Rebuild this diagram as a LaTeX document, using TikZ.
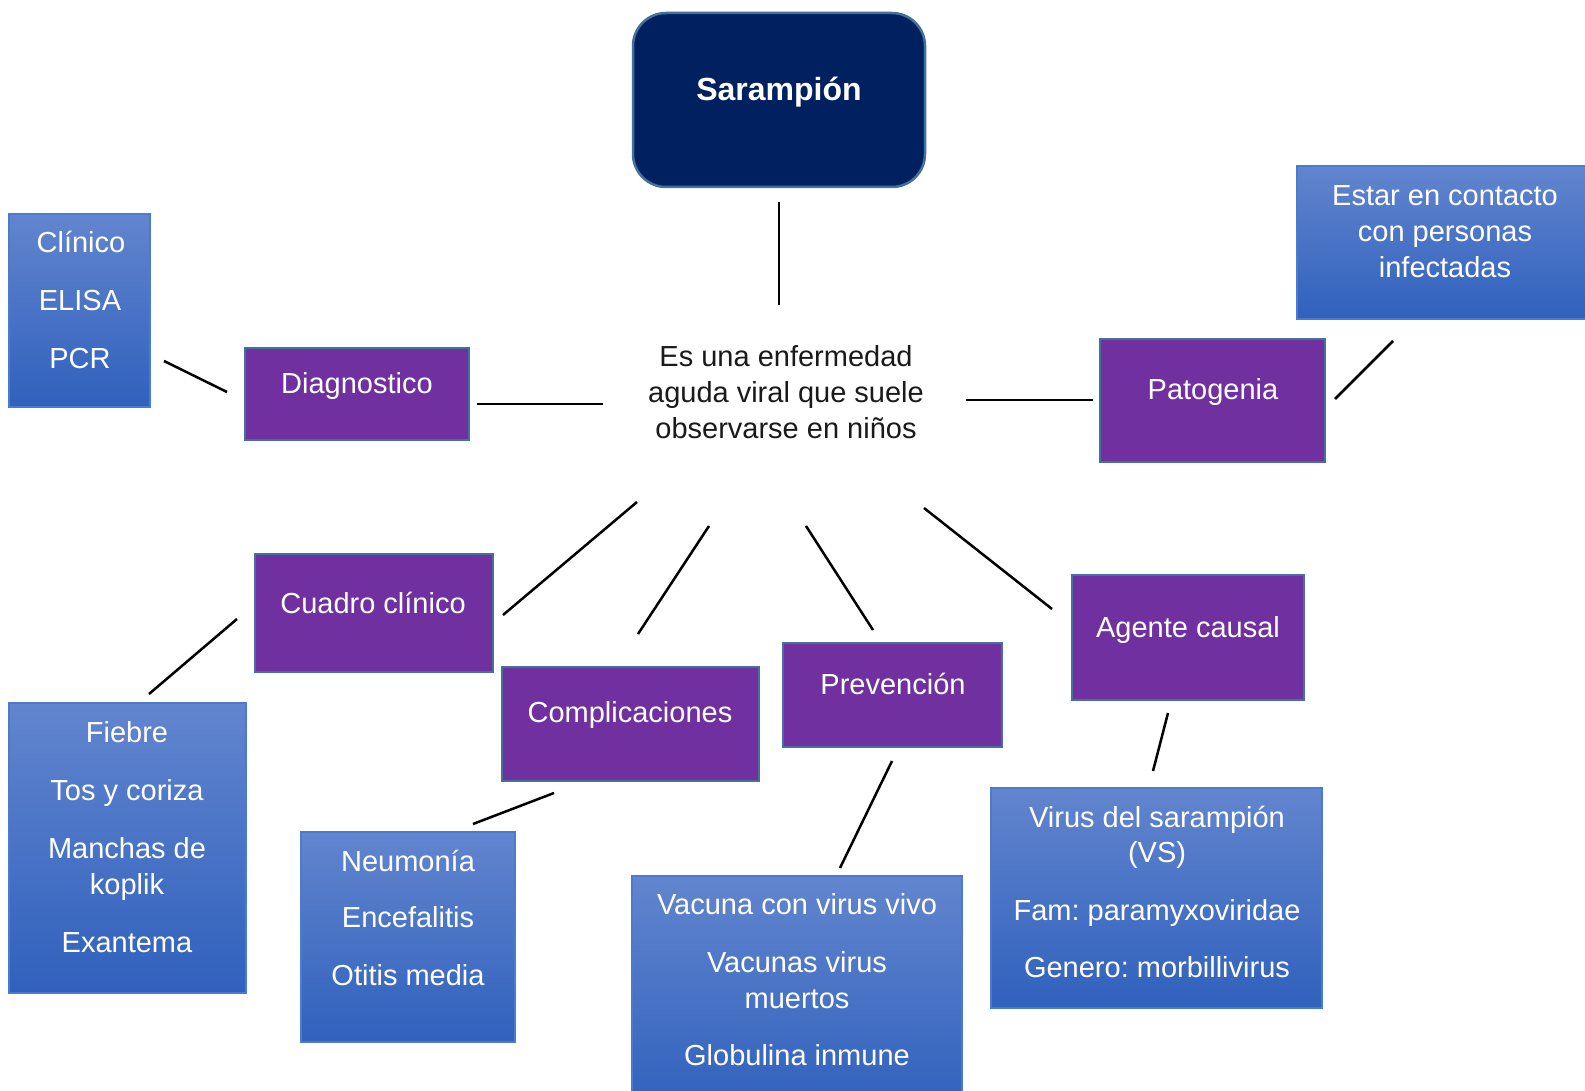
\documentclass[tikz,border=0pt]{standalone}
\usepackage{fontspec}
\setmainfont{Liberation Sans}
\frenchspacing
\definecolor{navy}{HTML}{002060}
\definecolor{edgeblue}{HTML}{41719C}
\definecolor{purp}{HTML}{7030A0}
\definecolor{btop}{HTML}{6285CE}
\definecolor{bbot}{HTML}{3061BD}
\definecolor{bedge}{HTML}{4A7BD0}
\definecolor{darktext}{HTML}{1A1A1A}
\begin{document}
\begin{tikzpicture}[x=1pt,y=-1pt,
  titlebox/.style={draw=edgeblue,line width=2.5pt,fill=navy,rounded corners=33pt,inner sep=0pt},
  purpbox/.style={draw=edgeblue,line width=2.2pt,fill=purp,inner sep=0pt},
  bluebox/.style={draw=bedge,line width=1.5pt,top color=btop,bottom color=bbot,inner sep=0pt},
  txt/.style={text=white,font=\fontsize{29}{36}\selectfont,inner sep=0pt,text height=21pt,text depth=0pt,anchor=center},
  ctxt/.style={txt,text=darktext},
  link/.style={draw=black,line width=2.5pt}]
\clip (0,0) rectangle (1585,1091);
\fill[white] (0,0) rectangle (1585,1091);
% boxes
\node[titlebox,minimum width=292pt,minimum height=174pt] (title) at (779,100) {};
\node[bluebox,minimum width=141pt,minimum height=193pt] (clin) at (79.5,310.5) {};
\node[purpbox,minimum width=224pt,minimum height=92pt] (diag) at (357,394) {};
\node[purpbox,minimum width=225pt,minimum height=123pt] (pato) at (1212.5,400.5) {};
\node[bluebox,minimum width=303pt,minimum height=153pt] (estar) at (1448.5,242.5) {};
\node[purpbox,minimum width=238pt,minimum height=118pt] (cuadro) at (374,613) {};
\node[bluebox,minimum width=237pt,minimum height=290pt] (fiebre) at (127.5,848) {};
\node[bluebox,minimum width=214pt,minimum height=210pt] (neum) at (408,937) {};
\node[purpbox,minimum width=257pt,minimum height=114pt] (compl) at (630.5,724) {};
\node[purpbox,minimum width=219pt,minimum height=104pt] (prev) at (892.5,695) {};
\node[bluebox,minimum width=330pt,minimum height=234pt] (vac) at (797,993) {};
\node[purpbox,minimum width=232pt,minimum height=125pt] (agente) at (1188,637.5) {};
\node[bluebox,minimum width=331pt,minimum height=220pt] (virus) at (1156.5,898) {};
% texts
\node[txt,font=\fontsize{32}{38}\selectfont\bfseries,text height=23pt] (tSar) at (779,89) {Sarampión};
\node[txt] (tClin) at (81,242) {Clínico};
\node[txt] (tElisa) at (80,300) {ELISA};
\node[txt] (tPcr) at (80,358) {PCR};
\node[txt] (tDiag) at (357,383) {Diagnostico};
\node[ctxt] (tC1) at (786,356) {Es una enfermedad};
\node[ctxt] (tC2) at (786,392) {aguda viral que suele};
\node[ctxt] (tC3) at (786,428) {observarse en niños};
\node[txt] (tPato) at (1213,389) {Patogenia};
\node[txt] (tE1) at (1445,195) {Estar en contacto};
\node[txt] (tE2) at (1445,231) {con personas};
\node[txt] (tE3) at (1445,267) {infectadas};
\node[txt] (tCuadro) at (373,603) {Cuadro clínico};
\node[txt] (tF1) at (127,732) {Fiebre};
\node[txt] (tF2) at (127,790) {Tos y coriza};
\node[txt] (tF3) at (127,848) {Manchas de};
\node[txt] (tF4) at (127,884) {koplik};
\node[txt] (tF5) at (127,942) {Exantema};
\node[txt] (tN1) at (408,861) {Neumonía};
\node[txt] (tN2) at (408,917) {Encefalitis};
\node[txt] (tN3) at (408,975) {Otitis media};
\node[txt] (tCompl) at (630,712) {Complicaciones};
\node[txt] (tPrev) at (893,684) {Prevención};
\node[txt] (tV1) at (797,904) {Vacuna con virus vivo};
\node[txt] (tV2) at (797,962) {Vacunas virus};
\node[txt] (tV3) at (797,998) {muertos};
\node[txt] (tV4) at (797,1055) {Globulina inmune};
\node[txt] (tAg) at (1188,627) {Agente causal};
\node[txt] (tVi1) at (1157,817) {Virus del sarampión};
\node[txt] (tVi2) at (1157,852) {(VS)};
\node[txt] (tVi3) at (1157,910) {Fam: paramyxoviridae};
\node[txt] (tVi4) at (1157,967) {Genero: morbillivirus};
% connector ends
\coordinate (a1) at (779,202); \coordinate (b1) at (779,305);
\coordinate (a2) at (164,361); \coordinate (b2) at (227,392);
\coordinate (a3) at (477,404); \coordinate (b3) at (603,404);
\coordinate (a4) at (966,400); \coordinate (b4) at (1093,400);
\coordinate (a5) at (1335,399); \coordinate (b5) at (1393,341);
\coordinate (a6) at (503,615); \coordinate (b6) at (637,502);
\coordinate (a7) at (237,619); \coordinate (b7) at (149,694);
\coordinate (a8) at (709,526); \coordinate (b8) at (638,634);
\coordinate (a9) at (554,793); \coordinate (b9) at (473,824);
\coordinate (a10) at (806,526); \coordinate (b10) at (873,630);
\coordinate (a11) at (892,761); \coordinate (b11) at (840,868);
\coordinate (a12) at (924,508); \coordinate (b12) at (1052,609);
\coordinate (a13) at (1168,713); \coordinate (b13) at (1153,771);
\foreach \i in {1,...,13} {\draw[link] (a\i) -- (b\i);}
\end{tikzpicture}
\end{document}
